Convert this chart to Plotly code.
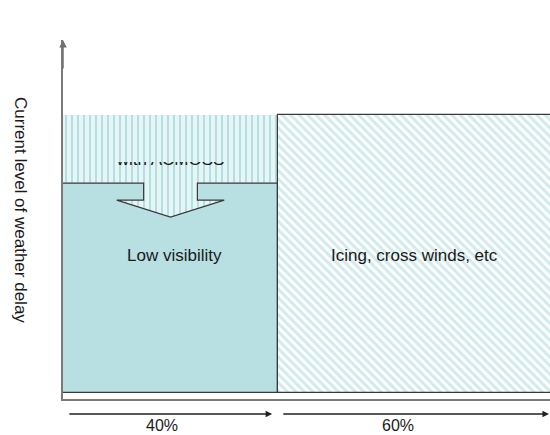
import plotly.graph_objects as go

# Weather-delay breakdown: share of delay by cause, and the level of delay
shares = [40, 60]                                   # % of current weather delay
causes = ["Low visibility", "Icing, cross winds, etc"]
share_labels = ["40%", "60%"]
current_level = [1.0, 1.0]                          # current level of weather delay
low_vis_residual = 0.755                            # low-visibility delay left after the improvement
improvement_label = "with ACMOSS"

# Figure geometry
W, H = 550, 435
M_L, M_R, M_T, M_B = 63, 0, 40, 36
X_RANGE = [0, 90.6]
Y_RANGE = [-0.0216, 1.27]
plot_h = H - M_T - M_B

FONT = "Liberation Sans, Arial, sans-serif"
TXT = "#1a1a1a"
SOLID = "#b8dfe1"
OUTLINE = "#3a3a3a"
vert_hatch = dict(shape="|", fgcolor="#7dcace", bgcolor="#e8f5f6", size=6, solidity=0.33)
diag_hatch = dict(shape="\\", fgcolor="#a3d6d8", bgcolor="#ffffff", size=6, solidity=0.5)

left_start = 0
left_end = shares[0]
left_mid = left_start + shares[0] / 2
right_mid = left_end + shares[1] / 2

fig = go.Figure()

# Low-visibility delay that remains
fig.add_trace(go.Bar(
    x=[left_mid], y=[low_vis_residual], base=[0], width=[shares[0]],
    marker=dict(color=SOLID, line=dict(color=OUTLINE, width=1.2)),
    hoverinfo="skip", showlegend=False,
))

# Portion removed by the improvement (lower strip, under the label)
split = 0.831
fig.add_trace(go.Bar(
    x=[left_mid], y=[split - low_vis_residual], base=[low_vis_residual], width=[shares[0]],
    marker=dict(color="#e8f5f6", pattern=vert_hatch, line=dict(width=0)),
    hoverinfo="skip", showlegend=False,
))

# Downward arrow showing the reduction
aw = shares[0]
stem_l, stem_r = left_start + aw * 0.375, left_start + aw * 0.625
head_l, head_r = left_start + aw * 0.25, left_start + aw * 0.75
tip_x = left_mid
sh_y = low_vis_residual - 0.061
tip_y = low_vis_residual - 0.122
top_y = low_vis_residual + 0.006
fig.add_trace(go.Scatter(
    x=[stem_l, stem_l, head_l, tip_x, head_r, stem_r, stem_r, stem_l],
    y=[top_y, sh_y, sh_y, tip_y, sh_y, sh_y, top_y, top_y],
    mode="lines", fill="toself", fillcolor="#e8f5f6", fillpattern=vert_hatch,
    line=dict(width=0), hoverinfo="skip", showlegend=False,
))
fig.add_trace(go.Scatter(
    x=[left_start, stem_l, stem_l, head_l, tip_x, head_r, stem_r, stem_r, left_end],
    y=[low_vis_residual, low_vis_residual, sh_y, sh_y, tip_y, sh_y, sh_y,
       low_vis_residual, low_vis_residual],
    mode="lines", line=dict(color=OUTLINE, width=1.2),
    hoverinfo="skip", showlegend=False,
))

# Label of the improvement, partly hidden by the strip drawn above it
fig.add_trace(go.Scatter(
    x=[left_mid], y=[0.835], mode="text", text=[improvement_label],
    textfont=dict(family=FONT, size=17, color=TXT), textposition="middle center",
    hoverinfo="skip", showlegend=False,
))

# Upper strip of the removed portion and the other-causes bar (overlay axes)
fig.add_trace(go.Bar(
    x=[left_mid], y=[current_level[0] - split], base=[split], width=[shares[0]],
    marker=dict(color="#e8f5f6", pattern=vert_hatch, line=dict(width=0)),
    xaxis="x2", yaxis="y2", hoverinfo="skip", showlegend=False,
))
fig.add_trace(go.Bar(
    x=[right_mid], y=[current_level[1]], base=[0], width=[shares[1]],
    marker=dict(color="#ffffff", pattern=diag_hatch, line=dict(color=OUTLINE, width=1.2)),
    xaxis="x2", yaxis="y2", hoverinfo="skip", showlegend=False,
))

annotations = []
# Cause labels inside the bars
annotations.append(dict(x=left_mid + 0.8, y=0.493, xref="x", yref="y", text=causes[0],
                        showarrow=False, font=dict(family=FONT, size=17, color=TXT)))
annotations.append(dict(x=65.3, y=0.493, xref="x", yref="y", text=causes[1],
                        showarrow=False, font=dict(family=FONT, size=17, color=TXT)))

# Y-axis title
annotations.append(dict(x=0, y=(H - M_B - 210) / plot_h, xref="paper", yref="paper",
                        xanchor="center", yanchor="middle", xshift=-43,
                        text="Current level of weather delay", textangle=90,
                        showarrow=False, font=dict(family=FONT, size=17, color=TXT)))

# Arrow head on the y axis
annotations.append(dict(x=0, y=1, xref="paper", yref="paper", ax=0, ay=30,
                        axref="pixel", ayref="pixel", showarrow=True, arrowhead=2,
                        arrowsize=1, arrowwidth=1.5, arrowcolor="#707070", text=""))

# Share arrows and labels under the axis (paper y so they show outside the plot)
arrow_y = -15 / plot_h
arrow_spans = [(left_start + 0.9, left_end - 1.1), (left_end + 0.7, X_RANGE[1] - 0.2)]
for (x0, x1) in arrow_spans:
    annotations.append(dict(x=x1, y=arrow_y, xref="x", yref="paper",
                            ax=x0, ay=0, axref="x", ayref="pixel",
                            showarrow=True, arrowhead=2, arrowsize=1, arrowwidth=1.3,
                            arrowcolor="#222222", text=""))
label_y = -26 / plot_h
for lx, lab in zip([18.4, 62.3], share_labels):
    annotations.append(dict(x=lx, y=label_y, xref="x", yref="paper", yanchor="middle",
                            text=lab, showarrow=False,
                            font=dict(family=FONT, size=16, color=TXT)))

axis_common = dict(showgrid=False, zeroline=False, showticklabels=False, ticks="")
fig.update_layout(
    width=W, height=H,
    margin=dict(l=M_L, r=M_R, t=M_T, b=M_B, pad=0),
    paper_bgcolor="white", plot_bgcolor="white",
    barmode="overlay", bargap=0,
    xaxis=dict(range=X_RANGE, showline=True, linecolor="#7a7a7a", linewidth=1.5, **axis_common),
    yaxis=dict(range=Y_RANGE, showline=True, linecolor="#7a7a7a", linewidth=1.5, **axis_common),
    xaxis2=dict(range=X_RANGE, overlaying="x", showline=False, **axis_common),
    yaxis2=dict(range=Y_RANGE, overlaying="y", showline=False, **axis_common),
    annotations=annotations,
    showlegend=False,
)

fig.write_html("out.html")
